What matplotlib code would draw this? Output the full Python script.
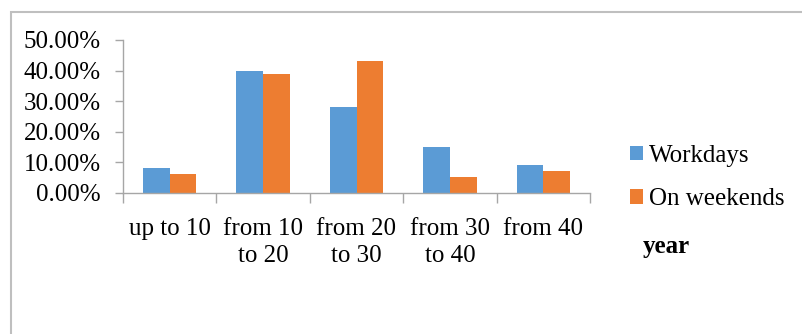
import matplotlib
matplotlib.use("Agg")
import matplotlib.pyplot as plt
from matplotlib.patches import Rectangle
import numpy as np

categories = ["up to 10", "from 10\nto 20", "from 20\nto 30", "from 30\nto 40", "from 40"]
workdays = [8, 40, 28, 15, 9]
weekends = [6, 39, 43, 5, 7]
series_names = ["Workdays", "On weekends"]
y_ticks = [0, 10, 20, 30, 40, 50]

BLUE = "#5B9BD5"
ORANGE = "#ED7D31"
GRAY = "#A6A6A6"
FS = 18

plt.rcParams["font.family"] = ["Liberation Serif", "DejaVu Serif"]

W, H = 802, 334
fig = plt.figure(figsize=(W / 100, H / 100), dpi=100)

# outer chart frame
fig.patches.append(Rectangle((11 / W, -0.05), 1.2, 1 - 11.7 / H + 0.05,
                             transform=fig.transFigure, fill=False,
                             edgecolor="#BFBFBF", linewidth=1.5))

ax = fig.add_axes([123 / W, 1 - 192.7 / H, (590 - 123) / W, (192.7 - 40) / H])

x = np.arange(len(categories))
bw = 0.286
ax.bar(x - bw / 2, workdays, width=bw, color=BLUE, label=series_names[0])
ax.bar(x + bw / 2, weekends, width=bw, color=ORANGE, label=series_names[1])

ax.set_xlim(-0.5, len(categories) - 0.5)
ax.set_ylim(0, 50)

ax.set_yticks(y_ticks)
ax.set_yticklabels([f"{v:.2f}%" for v in y_ticks], fontsize=FS)
ax.tick_params(axis="y", length=6, width=1, color=GRAY, pad=10)

ax.set_xticks(x)
ax.set_xticklabels(categories, fontsize=FS, linespacing=1.3)
ax.set_xticks(np.arange(len(categories) + 1) - 0.5, minor=True)
ax.tick_params(axis="x", which="major", length=0, pad=18)
ax.tick_params(axis="x", which="minor", length=7, width=1, color=GRAY)

for s in ["top", "right"]:
    ax.spines[s].set_visible(False)
for s in ["left", "bottom"]:
    ax.spines[s].set_color(GRAY)
    ax.spines[s].set_linewidth(1)

leg = fig.legend(loc="upper left", bbox_to_anchor=(630 / W, 1 - 145 / H),
                 frameon=False, fontsize=FS, handlelength=0.5, handleheight=0.5,
                 handletextpad=0.25, labelspacing=0.85, borderpad=0, borderaxespad=0)

fig.text(643 / W, 1 - 246 / H, "year", fontsize=FS, fontweight="bold",
         ha="left", va="center")

fig.savefig("out.png", dpi=100)
